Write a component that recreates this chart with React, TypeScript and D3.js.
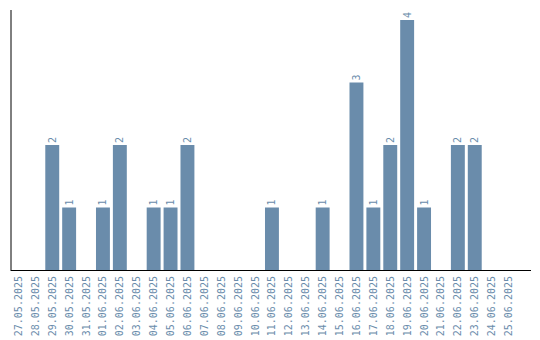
import React from "react";
import * as d3 from "d3";

const dates = [
  "27.05.2025", "28.05.2025", "29.05.2025", "30.05.2025", "31.05.2025",
  "01.06.2025", "02.06.2025", "03.06.2025", "04.06.2025", "05.06.2025",
  "06.06.2025", "07.06.2025", "08.06.2025", "09.06.2025", "10.06.2025",
  "11.06.2025", "12.06.2025", "13.06.2025", "14.06.2025", "15.06.2025",
  "16.06.2025", "17.06.2025", "18.06.2025", "19.06.2025", "20.06.2025",
  "21.06.2025", "22.06.2025", "23.06.2025", "24.06.2025", "25.06.2025",
];
const counts = [
  0, 0, 2, 1, 0,
  1, 2, 0, 1, 1,
  2, 0, 0, 0, 0,
  1, 0, 0, 1, 0,
  3, 1, 2, 4, 1,
  0, 2, 2, 0, 0,
];

const W = 540;
const H = 340;
const color = "#6a8cab";
const font = "'DejaVu Sans Mono', monospace";

export default function App() {
  const x = d3.scaleBand<string>().domain(dates).range([8.5, 518.5]).padding(3 / 17);
  const y = d3.scaleLinear().domain([0, 4]).range([270, 20]);
  const base = y(0);
  return (
    <svg width={W} height={H} style={{ position: "absolute", left: 0, top: 0 }}>
      {dates.map((d, i) => {
        const v = counts[i];
        const cx = (x(d) ?? 0) + x.bandwidth() / 2;
        return (
          <g key={d}>
            {v > 0 && (
              <>
                <rect x={x(d)} y={y(v)} width={x.bandwidth()} height={base - y(v)} fill={color} />
                <text
                  transform={`translate(${cx},${y(v) - 2}) rotate(-90)`}
                  dy="0.35em"
                  textAnchor="start"
                  fontFamily={font}
                  fontSize={10}
                  fill={color}
                >
                  {v}
                </text>
              </>
            )}
            <text
              transform={`translate(${cx},${base + 6}) rotate(-90)`}
              dy="0.35em"
              textAnchor="end"
              fontFamily={font}
              fontSize={10}
              fill={color}
            >
              {d}
            </text>
          </g>
        );
      })}
      <line x1={11} x2={11} y1={10} y2={base} stroke="#000" strokeWidth={1} />
      <line x1={10.5} x2={531} y1={base + 0.5} y2={base + 0.5} stroke="#000" strokeWidth={1} />
    </svg>
  );
}
